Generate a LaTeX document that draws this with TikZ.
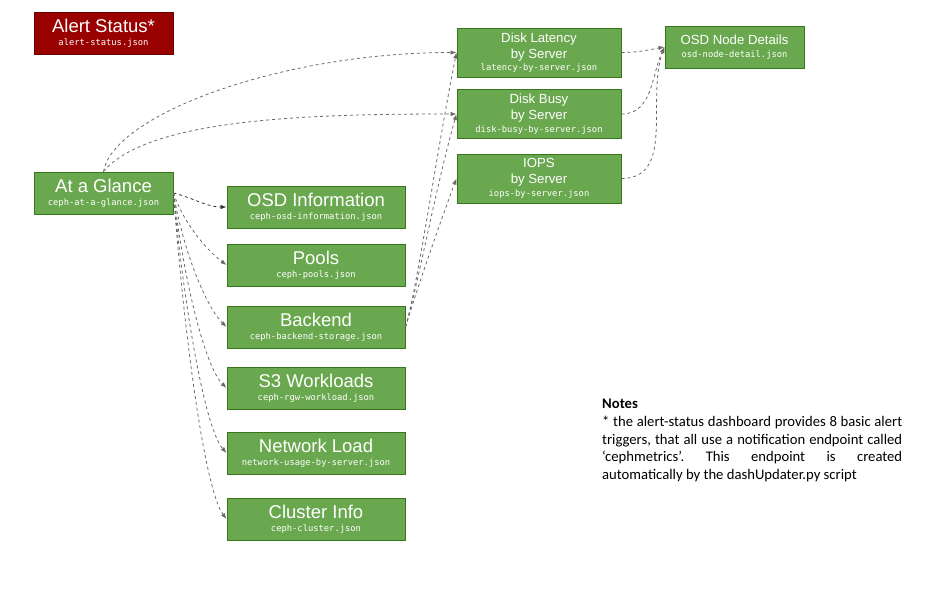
\documentclass[tikz,border=0pt]{standalone}
\usepackage{fontspec}
\usepackage{xcolor}
\setmainfont{Liberation Sans}
\newfontfamily\jsonfont{DejaVu Sans Mono}
\newfontfamily\notefont{Carlito}
\usetikzlibrary{arrows.meta}
\definecolor{boxgreen}{HTML}{6AA84F}
\definecolor{boxline}{HTML}{38761D}
\definecolor{alertred}{HTML}{990000}
\definecolor{alertline}{HTML}{660000}
\definecolor{linkgray}{HTML}{6A6A6A}
\newcommand{\json}[1]{{\jsonfont\fontsize{8.8}{11}\selectfont #1}}
\tikzset{
    board/.style = {draw=boxline, fill=boxgreen, text=white, rectangle, line width=1pt, inner sep=0pt, align=center, minimum width=178pt, minimum height=42pt, font=\fontsize{18.5}{16}\selectfont, execute at begin node=\rule{0pt}{15.6pt}},
    alert-board/.style = {board, draw=alertline, fill=alertred, minimum width=139pt},
    server-board/.style = {board, minimum width=164pt, minimum height=49pt, font=\fontsize{13.2}{16}\selectfont, execute at begin node=\rule{0pt}{11.3pt}},
    link/.style = {draw=linkgray, dashed, line width=0.8pt, -{Latex[length=6pt,width=4.5pt]}},
    notes-text/.style = {text width=300pt, align=justify, inner sep=0pt, font=\notefont\fontsize{14.67}{17.7}\selectfont\frenchspacing},
}

\begin{document}
\begin{tikzpicture}[x=1pt,y=-1pt]
\useasboundingbox (0,0) rectangle (929,590);

\node[alert-board] (alert) at (103.5,33) {Alert Status*\\[-3pt]\json{alert-status.json}};
\node[board, minimum width=139pt] (glance) at (103.5,193) {At a Glance\\[-3pt]\json{ceph-at-a-glance.json}};

% dashboards linked from the front page
\node[board] (osd) at (316,207) {OSD Information\\[-3pt]\json{ceph-osd-information.json}};
\node[board] (pools) at (316,265) {Pools\\[-3pt]\json{ceph-pools.json}};
\node[board] (backend) at (316,327) {Backend\\[-3pt]\json{ceph-backend-storage.json}};
\node[board] (rgw) at (316,388) {S3 Workloads\\[-3pt]\json{ceph-rgw-workload.json}};
\node[board] (network) at (316,453) {Network Load\\[-3pt]\json{network-usage-by-server.json}};
\node[board] (cluster) at (316,519) {Cluster Info\\[-3pt]\json{ceph-cluster.json}};

% per server views
\node[server-board] (latency) at (539,52.5) {Disk Latency\\by Server\\[-3.3pt]\json{latency-by-server.json}};
\node[server-board] (busy) at (539,114) {Disk Busy\\by Server\\[-3.3pt]\json{disk-busy-by-server.json}};
\node[server-board] (iops) at (539,178.5) {IOPS\\by Server\\[-3.3pt]\json{iops-by-server.json}};
\node[board, minimum width=139pt, font=\fontsize{13.2}{16}\selectfont, execute at begin node=\rule{0pt}{13pt}] (nodedetail) at (734.5,47) {OSD Node Details\\[-3.4pt]\json{osd-node-detail.json}};

\draw[link] (glance.north) .. controls +(10,-57) and +(-175,0) .. (latency.west);
\draw[link] (glance.north) .. controls +(45,-54) and +(-140,0) .. (busy.west);
\draw[link, draw=black!80] (glance.east) .. controls +(20,5) and +(-20,0) .. (osd.west);
\draw[link] (glance.east) .. controls +(10,30) and +(-20,-15) .. (pools.west);
\draw[link] (glance.east) .. controls +(10,60) and +(-20,-20) .. (backend.west);
\draw[link] (glance.east) .. controls +(10,85) and +(-22,-22) .. (rgw.west);
\draw[link] (glance.east) .. controls +(10,110) and +(-22,-25) .. (network.west);
\draw[link] (glance.east) .. controls +(10,137) and +(-22,-29) .. (cluster.west);

\draw[link] (backend.east) .. controls +(12,-40) and +(-20,100) .. (latency.west);
\draw[link] (backend.east) .. controls +(12,-40) and +(-20,70) .. (busy.west);
\draw[link] (backend.east) .. controls +(12,-40) and +(-15,40) .. (iops.west);

\draw[link] (latency.east) to[out=0,in=190] (nodedetail.west);
\draw[link] (busy.east) to[out=0,in=-115] (nodedetail.west);
\draw[link] (iops.east) to[out=0,in=-110] (nodedetail.west);

\node[notes-text, anchor=north west] (notes) at (602,399) {\textbf{Notes}\\
\relax* the alert-status dashboard provides 8 basic alert\linebreak
triggers, that all use a notification endpoint called\linebreak
‘cephmetrics’. This endpoint is created\linebreak
automatically by the dashUpdater.py script};
\end{tikzpicture}
\end{document}
